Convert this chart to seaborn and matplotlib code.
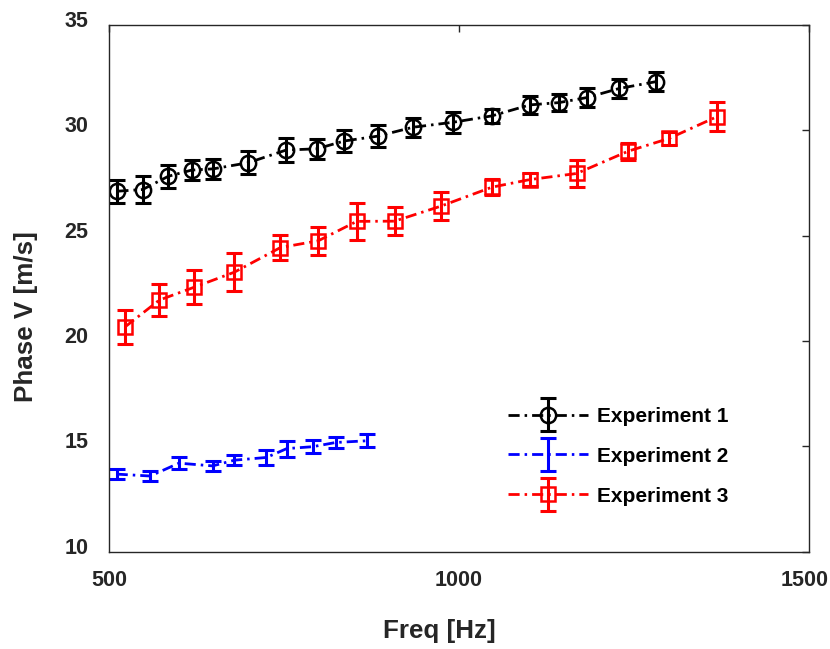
import matplotlib
matplotlib.use("Agg")
import matplotlib.pyplot as plt
import matplotlib.transforms as mtransforms
import seaborn as sns
import pandas as pd
from matplotlib.container import ErrorbarContainer
from matplotlib.legend_handler import HandlerTuple, HandlerErrorbar

# Experiment 1
freq1 = [512, 548, 585, 618, 649, 699, 753, 797, 836, 884, 934, 992,
         1047, 1101, 1143, 1183, 1229, 1281]
vel1 = [27.10, 27.18, 27.81, 28.10, 28.16, 28.45, 29.05, 29.11, 29.48,
        29.71, 30.13, 30.37, 30.67, 31.19, 31.30, 31.54, 31.97, 32.29]
err1 = [0.55, 0.63, 0.54, 0.47, 0.49, 0.55, 0.57, 0.46, 0.51, 0.53, 0.45,
        0.49, 0.33, 0.43, 0.42, 0.47, 0.47, 0.45]

# Experiment 2
freq2 = [511, 559, 600, 648, 679, 725, 754, 791, 824, 868]
vel2 = [13.69, 13.60, 14.21, 14.08, 14.35, 14.48, 14.90, 14.99, 15.19, 15.27]
err2 = [0.25, 0.25, 0.30, 0.24, 0.25, 0.34, 0.38, 0.32, 0.24, 0.30]

# Experiment 3
freq3 = [523, 572, 621, 679, 745, 799, 854, 908, 974, 1047, 1101, 1168,
         1242, 1300, 1369]
vel3 = [20.67, 21.94, 22.54, 23.26, 24.43, 24.75, 25.67, 25.68, 26.39,
        27.29, 27.65, 27.94, 29.00, 29.60, 30.64]
err3 = [0.82, 0.74, 0.81, 0.89, 0.59, 0.67, 0.87, 0.65, 0.67, 0.38, 0.32,
        0.63, 0.40, 0.30, 0.71]

labels = ["Experiment 1", "Experiment 2", "Experiment 3"]
x_ticks = [500, 1000, 1500]
y_ticks = [10, 15, 20, 25, 30, 35]

sns.set_style("white")
plt.rcParams["font.family"] = ["Liberation Sans", "DejaVu Sans"]
plt.rcParams["font.weight"] = "bold"

TXT = "#262626"

fig = plt.figure(figsize=(8.3, 6.49), dpi=100)
ax = fig.add_axes([0.1313, 0.1495, 0.8434, 0.8127])

series = [
    (freq1, vel1, err1, "black", "o", 11),
    (freq2, vel2, err2, "blue", "", 0),
    (freq3, vel3, err3, "red", "s", 10),
]

handles = []
for (f, v, e, color, marker, ms), lab in zip(series, labels):
    df = pd.DataFrame({"Freq": f, "V": v})
    n_before = len(ax.lines)
    sns.lineplot(data=df, x="Freq", y="V", ax=ax, color=color,
                 marker=marker if marker else None, markersize=ms,
                 markerfacecolor="none", markeredgecolor=color,
                 markeredgewidth=1.8, linewidth=2.0,
                 linestyle=(0, (4.0, 1.8, 0.9, 1.8)), legend=False,
                 sort=False)
    line = ax.lines[n_before]
    eb = ax.errorbar(f, v, yerr=e, fmt="none", ecolor=color,
                     elinewidth=2.2, capsize=6, capthick=2.2)
    handles.append((line, eb))

ax.set_xlim(500, 1500)
ax.set_ylim(10, 35)
ax.set_xticks(x_ticks)
ax.set_yticks(y_ticks)
ax.tick_params(direction="in", length=5, width=1, colors=TXT,
               labelsize=15.5, top=True, right=True)
ax.tick_params(axis="x", pad=13)
ax.tick_params(axis="y", pad=15)
for lbl in ax.get_xticklabels() + ax.get_yticklabels():
    lbl.set_fontweight("bold")
    lbl.set_color(TXT)

# nudge the y tick labels slightly upward
shift_up = mtransforms.ScaledTranslation(0, 0.06, fig.dpi_scale_trans)
for lbl in ax.get_yticklabels():
    lbl.set_transform(lbl.get_transform() + shift_up)
# keep the last x tick label inside the canvas
shift_left = mtransforms.ScaledTranslation(-0.04, 0, fig.dpi_scale_trans)
last = ax.get_xticklabels()[-1]
last.set_transform(last.get_transform() + shift_left)

ax.set_xlabel("Freq [Hz]", fontsize=18.7, fontweight="bold", color=TXT,
              va="center", ha="center")
ax.set_ylabel("Phase V [m/s]", fontsize=18.7, fontweight="bold", color=TXT,
              va="center", ha="center")
ax.xaxis.set_label_coords(0.4714, -0.150)
ax.yaxis.set_label_coords(-0.1186, 0.4455)

for sp in ax.spines.values():
    sp.set_color(TXT)
    sp.set_linewidth(1.0)
    sp.set_visible(True)

leg = ax.legend(handles, labels,
                handler_map={tuple: HandlerTuple(ndivide=1, pad=0),
                             ErrorbarContainer: HandlerErrorbar(yerr_size=0.8)},
                loc="upper left", bbox_to_anchor=(0.57, 0.275),
                borderpad=0, borderaxespad=0,
                frameon=False, handlelength=3.85,
                handletextpad=0.4, labelspacing=1.0,
                prop={"weight": "bold", "size": 15})
for t in leg.get_texts():
    t.set_color("black")

fig.savefig("out.png", dpi=100)
